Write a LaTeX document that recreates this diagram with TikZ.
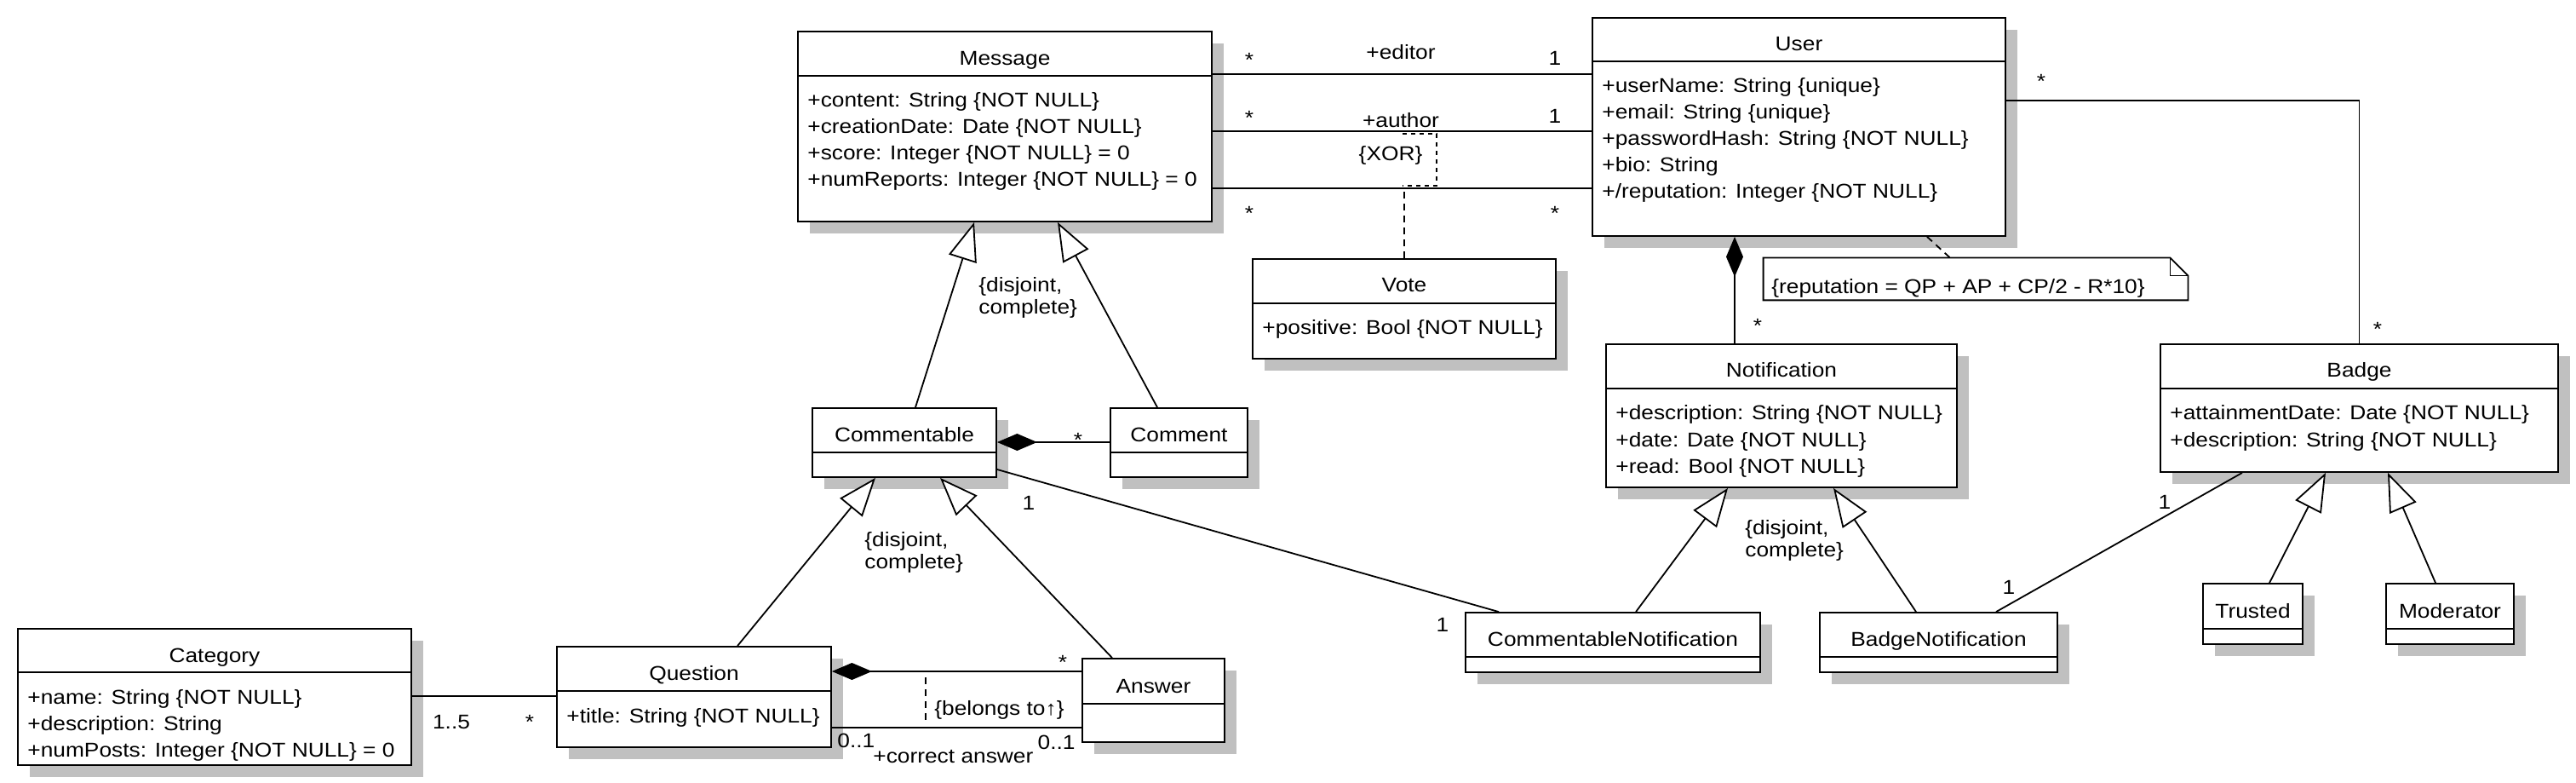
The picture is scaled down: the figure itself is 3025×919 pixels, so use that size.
\documentclass[tikz,border=0pt]{standalone}
\usepackage{fontspec}
\setmainfont{Liberation Sans}[FakeStretch=1.12]
\usepackage{tikz}
\usetikzlibrary{arrows.meta}
\usetikzlibrary{shadows}
\usetikzlibrary{fit}
\definecolor{shadowgray}{RGB}{192,192,192}

\begin{document}
\begin{tikzpicture}[%
		x=0.5pt, y=-0.5pt,
		every node/.style={font=\fontsize{11.75pt}{13pt}\selectfont, inner sep=0pt},
		cls/.style={draw, line width=0.9pt, fill=white,
			drop shadow={shadow xshift=7pt, shadow yshift=-7pt, fill=shadowgray, opacity=1}},
		ttl/.style={anchor=base},
		attr/.style={anchor=base west},
		mult/.style={anchor=base},
		assoc/.style={line width=0.9pt},
		gen/.style={line width=0.9pt, -{Triangle[length=22.5pt, width=17pt, fill=white]}},
		comp/.style={line width=0.9pt, {Diamond[length=23.5pt, width=10pt]}-},
		dep/.style={line width=0.9pt, dash pattern=on 4pt off 3pt},
		constr/.style={anchor=north west, align=left}
	]
	\useasboundingbox (0,0) rectangle (3025,919);

	\node[cls, fit={(937,37) (1423,260)}] (message) {};
	\draw[assoc] (message.west |- 0,89) -- (message.east |- 0,89);
	\node[ttl] (message-name) at (message.north |- 0,77) {Message};
	\foreach \a [count=\i] in {+content: String \{NOT NULL\}, +creationDate: Date \{NOT NULL\},
		+score: Integer \{NOT NULL\} = 0, +numReports: Integer \{NOT NULL\} = 0}
		\node[attr] (message-\i) at (948,{95+31*\i}) {\a};

	\node[cls, fit={(1870,21) (2355,277)}] (user) {};
	\draw[assoc] (user.west |- 0,72) -- (user.east |- 0,72);
	\node[ttl] (user-name) at (user.north |- 0,60) {User};
	\foreach \a [count=\i] in {+userName: String \{unique\}, +email: String \{unique\},
		+passwordHash: String \{NOT NULL\}, +bio: String, +/reputation: Integer \{NOT NULL\}}
		\node[attr] (user-\i) at (1881,{78+31*\i}) {\a};

	\node[cls, fit={(1471,304) (1827,421)}] (vote) {};
	\draw[assoc] (vote.west |- 0,356) -- (vote.east |- 0,356);
	\node[ttl] (vote-name) at (vote.north |- 0,343) {Vote};
	\node[attr] (vote-1) at (1482,393) {+positive: Bool \{NOT NULL\}};

	\node[cls, fit={(954,479) (1170,560)}] (commentable) {};
	\draw[assoc] (commentable.west |- 0,531) -- (commentable.east |- 0,531);
	\node[ttl] (commentable-name) at (commentable.north |- 0,518) {Commentable};

	\node[cls, fit={(1304,479) (1465,560)}] (comment) {};
	\draw[assoc] (comment.west |- 0,531) -- (comment.east |- 0,531);
	\node[ttl] (comment-name) at (comment.north |- 0,518) {Comment};

	\node[cls, fit={(21,738) (483,898)}] (category) {};
	\draw[assoc] (category.west |- 0,789) -- (category.east |- 0,789);
	\node[ttl] (category-name) at (category.north |- 0,777) {Category};
	\foreach \a [count=\i] in {+name: String \{NOT NULL\}, +description: String,
		+numPosts: Integer \{NOT NULL\} = 0}
		\node[attr] (category-\i) at (32,{795+31*\i}) {\a};

	\node[cls, fit={(654,759) (976,877)}] (question) {};
	\draw[assoc] (question.west |- 0,811) -- (question.east |- 0,811);
	\node[ttl] (question-name) at (question.north |- 0,798) {Question};
	\node[attr] (question-1) at (665,848) {+title: String \{NOT NULL\}};

	\node[cls, fit={(1271,773) (1438,871)}] (answer) {};
	\draw[assoc] (answer.west |- 0,826) -- (answer.east |- 0,826);
	\node[ttl] (answer-name) at (answer.north |- 0,813) {Answer};

	\node[cls, fit={(1886,404) (2298,572)}] (notification) {};
	\draw[assoc] (notification.west |- 0,456) -- (notification.east |- 0,456);
	\node[ttl] (notification-name) at (notification.north |- 0,443) {Notification};
	\foreach \a [count=\i] in {+description: String \{NOT NULL\}, +date: Date \{NOT NULL\},
		+read: Bool \{NOT NULL\}}
		\node[attr] (notification-\i) at (1897,{462+31*\i}) {\a};

	\node[cls, fit={(2537,404) (3004,554)}] (badge) {};
	\draw[assoc] (badge.west |- 0,456) -- (badge.east |- 0,456);
	\node[ttl] (badge-name) at (badge.north |- 0,443) {Badge};
	\foreach \a [count=\i] in {+attainmentDate: Date \{NOT NULL\}, +description: String \{NOT NULL\}}
		\node[attr] (badge-\i) at (2548,{462+31*\i}) {\a};

	\node[cls, fit={(1721,719) (2067,789)}] (cnotif) {};
	\draw[assoc] (cnotif.west |- 0,771) -- (cnotif.east |- 0,771);
	\node[ttl] (cnotif-name) at (cnotif.north |- 0,758) {CommentableNotification};

	\node[cls, fit={(2137,719) (2416,789)}] (bnotif) {};
	\draw[assoc] (bnotif.west |- 0,771) -- (bnotif.east |- 0,771);
	\node[ttl] (bnotif-name) at (bnotif.north |- 0,758) {BadgeNotification};

	\node[cls, fit={(2587,685) (2704,756)}] (trusted) {};
	\draw[assoc] (trusted.west |- 0,738) -- (trusted.east |- 0,738);
	\node[ttl] (trusted-name) at (trusted.north |- 0,725) {Trusted};

	\node[cls, fit={(2802,685) (2952,756)}] (moderator) {};
	\draw[assoc] (moderator.west |- 0,738) -- (moderator.east |- 0,738);
	\node[ttl] (moderator-name) at (moderator.north |- 0,725) {Moderator};

	\node[fit={(2071,303) (2569,352)}] (note) {};
	\draw[assoc] (note.north west) -- ([xshift=-10.5pt]note.north east) -- ([yshift=-10.5pt]note.north east)
		-- (note.south east) -- (note.south west) -- cycle;
	\draw[assoc] ([xshift=-10.5pt]note.north east) |- ([yshift=-10.5pt]note.north east);
	\node[attr] (note-text) at (2080,345) {\{reputation = QP + AP + CP/2 - R*10\}};
	\draw[dep] (user.south -| 2263,0) -- (note.north -| 2290,0);

	\draw[assoc] (message.east |- 0,87) -- (user.west |- 0,87);
	\draw[assoc] (message.east |- 0,154) -- (user.west |- 0,154);
	\draw[assoc] (message.east |- 0,221) -- coordinate[pos=0.5] (vote-link) (user.west |- 0,221);
	\draw[dep] (vote.north) -- (vote.north |- vote-link);
	\draw[line width=0.9pt, dash pattern=on 2.5pt off 2.5pt] (1647,157) -- (1687,157) -- (1687,218) -- (1647,218);
	\node[mult] (editor-m) at (1467,79) {*};
	\node[mult] (editor-role) at (1645,70) {+editor};
	\node[mult] (editor-1) at (1826,77) {1};
	\node[mult] (author-m) at (1467,147) {*};
	\node[mult] (author-role) at (1645,150) {+author};
	\node[mult] (author-1) at (1826,145) {1};
	\node[mult] (vote-m1) at (1467,259) {*};
	\node[mult] (vote-m2) at (1826,259) {*};
	\node[mult] (xor) at (1633,189) {\{XOR\}};

	\draw[assoc] (user.east |- 0,118) -| (badge.north);
	\node[mult] (badge-m1) at (2397,104) {*};
	\node[mult] (badge-m2) at (2792,395) {*};

	\draw[comp] (user.south -| 2037,0) -- (notification.north -| 2037,0);
	\node[mult] (notification-m) at (2064,391) {*};

	\draw[comp] (commentable.east |- 0,519) -- (comment.west |- 0,519);
	\node[mult] (comment-m) at (1266,524) {*};

	\draw[gen] (commentable.north -| 1075,0) -- (message.south -| 1144,0);
	\draw[gen] (comment.north -| 1359,0) -- (message.south -| 1242,0);
	\node[constr] (message-gs) at (1149,325) {\{disjoint,\\complete\}};
	\draw[gen] (question.north -| 866,0) -- (commentable.south -| 1028,0);
	\draw[gen] (answer.north -| 1306,0) -- (commentable.south -| 1104,0);
	\node[constr] (commentable-gs) at (1015,624) {\{disjoint,\\complete\}};
	\draw[gen] (cnotif.north -| 1921,0) -- (notification.south -| 2029,0);
	\draw[gen] (bnotif.north -| 2250,0) -- (notification.south -| 2153,0);
	\node[constr] (notification-gs) at (2049,610) {\{disjoint,\\complete\}};
	\draw[gen] (trusted.north -| 2665,0) -- (badge.south -| 2731,0);
	\draw[gen] (moderator.north -| 2860,0) -- (badge.south -| 2804,0);

	\draw[assoc] (commentable.east |- 0,551) -- (cnotif.north -| 1760,0);
	\node[mult] (cnotif-m1) at (1208,598) {1};
	\node[mult] (cnotif-m2) at (1694,741) {1};
	\draw[assoc] (badge.south -| 2633,0) -- (bnotif.north -| 2344,0);
	\node[mult] (bnotif-m1) at (2542,597) {1};
	\node[mult] (bnotif-m2) at (2359,697) {1};

	\draw[assoc] (category.east |- 0,817) -- (question.west |- 0,817);
	\node[mult] (category-m) at (530,855) {1..5};
	\node[mult] (question-m) at (622,855) {*};

	\draw[comp] (question.east |- 0,788) -- (answer.west |- 0,788);
	\node[mult] (answer-m) at (1248,785) {*};
	\draw[assoc] (question.east |- 0,854) -- (answer.west |- 0,854);
	\node[anchor=base west] (correct-m1) at (983,877) {0..1};
	\node[anchor=base east] (correct-m2) at (1263,879) {0..1};
	\node[anchor=base west] (correct-role) at (1025,895) {+correct answer};
	\draw[dep] (1087,795) -- (1087,850);
	\node[anchor=base west] (belongs) at (1097,839) {\{belongs to↑\}};
\end{tikzpicture}
\end{document}
